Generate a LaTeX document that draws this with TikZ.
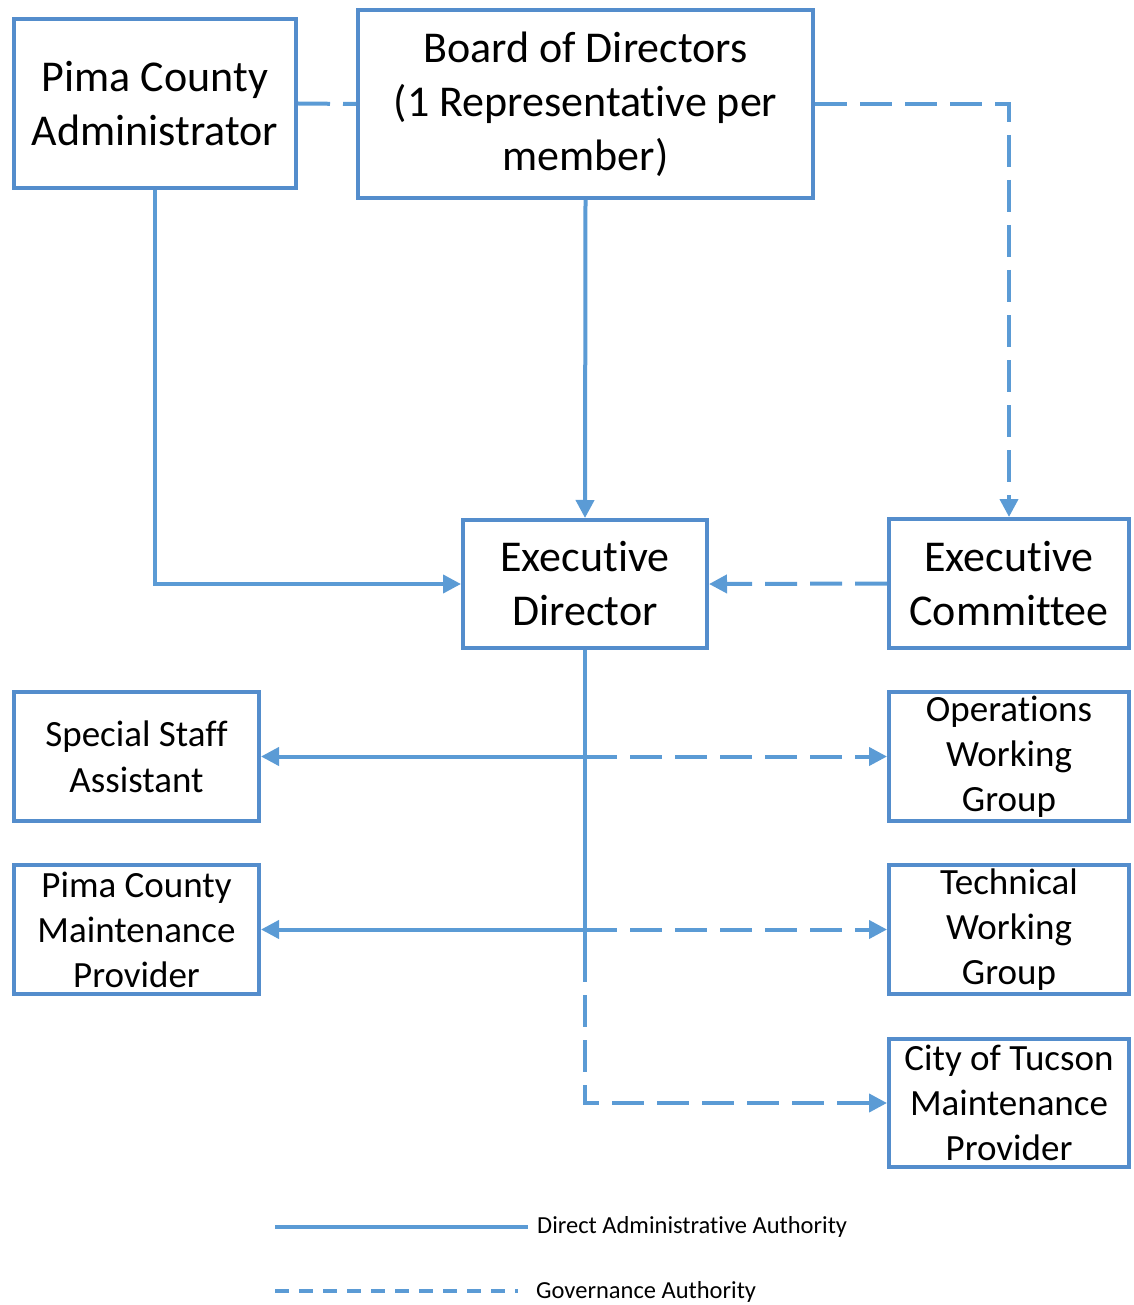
\documentclass[tikz,border=0pt]{standalone}
\usepackage{fontspec}
\setmainfont{Carlito}[Ligatures={NoCommon,NoRequired,NoContextual},Contextuals=NoAlternate,RawFeature={-liga;-clig;-dlig;-calt}]
\usetikzlibrary{arrows.meta}
\definecolor{boxblue}{RGB}{84,141,204}
\definecolor{lineblue}{RGB}{91,155,213}
\tikzset{
  direct/.style={draw=lineblue,line width=4pt},
  gov/.style={draw=lineblue,line width=4pt,dash pattern=on 32pt off 13pt},
  tip/.style={-{Triangle[length=18pt,width=18pt]}}
}
\begin{document}
\begin{tikzpicture}[x=1pt,y=-1pt]
	\useasboundingbox (0,0) rectangle (1133,1305);
	\begin{scope}[every node/.style={draw=boxblue,line width=4pt,fill=white,align=center,inner sep=0pt}]
		\node (adm) [minimum width=282pt,minimum height=169pt,font=\fontsize{44}{54}\selectfont] at (155,103.5) {Pima County\\Administrator};
		\node (bod) [minimum width=455pt,minimum height=188pt,font=\fontsize{44}{54}\selectfont] at (585.5,104) {Board of Directors\\(1 Representative per\\member)};
		\node (ed) [minimum width=244pt,minimum height=128pt,font=\fontsize{44}{54}\selectfont] at (585,584) {Executive\\Director};
		\node (excom) [minimum width=240pt,minimum height=129pt,font=\fontsize{44}{54}\selectfont] at (1009,583.5) {Executive\\Committee};
		\node (ssa) [minimum width=245pt,minimum height=129pt,font=\fontsize{37}{46}\selectfont] at (136.5,756.5) {Special Staff\\Assistant};
		\node (ops) [minimum width=240pt,minimum height=129pt,font=\fontsize{37}{45}\selectfont] at (1009,756.5) {Operations\\Working\\Group};
		\node (pcm) [minimum width=245pt,minimum height=129pt,font=\fontsize{37}{45}\selectfont] at (136.5,929.5) {Pima County\\Maintenance\\Provider};
		\node (tech) [minimum width=240pt,minimum height=129pt,font=\fontsize{37}{45}\selectfont] at (1009,929.5) {Technical\\Working\\Group};
		\node (cot) [minimum width=240pt,minimum height=128pt,font=\fontsize{37}{45}\selectfont] at (1009,1103) {City of Tucson\\Maintenance\\Provider};
	\end{scope}
	\coordinate (j1) at (ed.south |- ssa.east);
	\coordinate (j2) at (ed.south |- pcm.east);
	\coordinate (split) at (585,950);
	% connectors
	\draw [gov] (adm.east) -- (bod.west);
	\draw [gov,tip] (bod.east) -| (excom.north);
	\draw [direct,tip] (bod.south) -- (ed.north);
	\draw [direct,tip] (adm.south) |- (ed.west);
	\draw [gov,tip] (excom.west) -- (ed.east);
	\draw [direct] (ed.south) -- (split);
	\draw [gov,tip] (split) |- (cot.west);
	\draw [direct,tip] (j1) -- (ssa.east);
	\draw [gov,tip] (j1) -- (ops.west);
	\draw [direct,tip] (j2) -- (pcm.east);
	\draw [gov,tip] (j2) -- (tech.west);
	% legend
	\coordinate (l1) at (275,1227);
	\coordinate (l2) at (528,1227);
	\coordinate (l3) at (275,1291);
	\coordinate (l4) at (518,1291);
	\draw [direct] (l1) -- (l2);
	\draw [direct,dash pattern=on 14pt off 10pt] (l3) -- (l4);
	\node (ldir) [anchor=west,inner sep=0pt,font=\fontsize{24.5}{29}\selectfont] at (537,1227) {Direct Administrative Authority};
	\node (lgov) [anchor=west,inner sep=0pt,font=\fontsize{24.5}{29}\selectfont] at (536,1292) {Governance Authority};
\end{tikzpicture}
\end{document}
